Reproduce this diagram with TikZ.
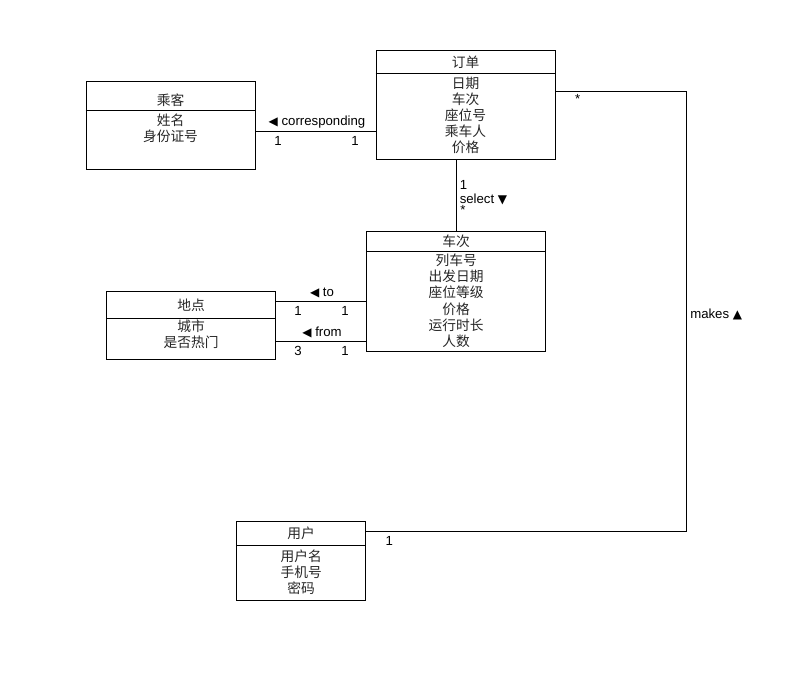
\documentclass[tikz,border=0pt]{standalone}
\usepackage{fontspec}
\setmainfont{Liberation Sans}
\newfontfamily\cjk{Noto Sans CJK SC}
\newfontfamily\sym{DejaVu Sans}
\usetikzlibrary{fit}

\tikzset{
  cls/.style={draw, line width=0.75pt, inner sep=0pt},
  sep/.style={line width=0.75pt},
  assoc/.style={line width=0.75pt},
  attr/.style={font=\cjk\fontsize{10.3}{12}\selectfont, inner sep=0pt, text=black!85},
  lbl/.style={font=\fontsize{9.9}{11}\selectfont, inner sep=0pt},
}
\newcommand{\tl}{{\sym\fontsize{9}{10}\selectfont ◀}}
\newcommand{\td}{{\sym\fontsize{9}{10}\selectfont ▼}}
\newcommand{\tu}{{\sym\fontsize{9}{10}\selectfont ▲}}

\begin{document}
\begin{tikzpicture}[x=0.75pt,y=-0.75pt]
\useasboundingbox (0,0) rectangle (786,699);

% ---- classes ----
% 订单
\node[cls, fit={(376,51) (555,159)}] (order) {};
\draw[sep] (order.west |- 0,74) -- (order.east |- 0,74);
\node[attr] (orderT) at (465.5,62.5) {订单};
\foreach \t [count=\i] in {日期,车次,座位号,乘车人,价格}
  \node[attr] (orderA\i) at (465.5,{83+16*(\i-1)}) {\t};

% 乘客
\node[cls, fit={(86,82) (255,169)}] (pass) {};
\draw[sep] (pass.west |- 0,111) -- (pass.east |- 0,111);
\node[attr] (passT) at (170.5,100) {乘客};
\foreach \t [count=\i] in {姓名,身份证号}
  \node[attr] (passA\i) at (170.5,{120+16*(\i-1)}) {\t};

% 车次
\node[cls, fit={(366.7,231.7) (545.7,351)}] (train) {};
\draw[sep] (train.west |- 0,251) -- (train.east |- 0,251);
\node[attr] (trainT) at (456.2,241) {车次};
\foreach \t [count=\i] in {列车号,出发日期,座位等级,价格,运行时长,人数}
  \node[attr] (trainA\i) at (456.2,{260+16.3*(\i-1)}) {\t};

% 地点
\node[cls, fit={(106.7,291.7) (275.7,359)}] (place) {};
\draw[sep] (place.west |- 0,318.3) -- (place.east |- 0,318.3);
\node[attr] (placeT) at (191.2,305) {地点};
\foreach \t [count=\i] in {城市,是否热门}
  \node[attr] (placeA\i) at (191.2,{326.7+16*(\i-1)}) {\t};

% 用户
\node[cls, fit={(236.7,521.7) (365.7,600)}] (user) {};
\draw[sep] (user.west |- 0,545) -- (user.east |- 0,545);
\node[attr] (userT) at (301.2,533) {用户};
\foreach \t [count=\i] in {用户名,手机号,密码}
  \node[attr] (userA\i) at (301.2,{556.7+15.7*(\i-1)}) {\t};

% ---- associations ----
% corresponding
\draw[assoc] (pass.east |- 0,131.7) -- (order.west |- 0,131.7);
\node[lbl] (corrL) at (317,121.7) {\tl\ corresponding};
\node[lbl] (corrM1) at (278,140.5) {1};
\node[lbl] (corrM2) at (355,140.5) {1};

% select
\draw[assoc] (order.south -| 456.7,0) -- (train.north -| 456.7,0);
\node[lbl] (selM1) at (463.5,185) {1};
\node[lbl, anchor=west] (selL) at (459.5,199) {select \td};
\node[lbl] (selM2) at (463,210) {*};

% to
\draw[assoc] (place.east |- 0,301.7) -- (train.west |- 0,301.7);
\node[lbl] (toL) at (322,292.7) {\tl\ to};
\node[lbl] (toM1) at (298,310.5) {1};
\node[lbl] (toM2) at (345,310.5) {1};

% from
\draw[assoc] (place.east |- 0,341.7) -- (train.west |- 0,341.7);
\node[lbl] (fromL) at (322,332.5) {\tl\ from};
\node[lbl] (fromM1) at (298,350.5) {3};
\node[lbl] (fromM2) at (345,350.5) {1};

% makes
\coordinate (mk) at (686.7,300);
\draw[assoc] (order.east |- 0,91.7) -| (mk) |- (user.east |- 0,531.7);
\node[lbl] (mkM1) at (577.7,99) {*};
\node[lbl, anchor=west] (mkL) at (690,314.5) {makes \tu};
\node[lbl] (mkM2) at (389.3,540.7) {1};
\end{tikzpicture}
\end{document}
